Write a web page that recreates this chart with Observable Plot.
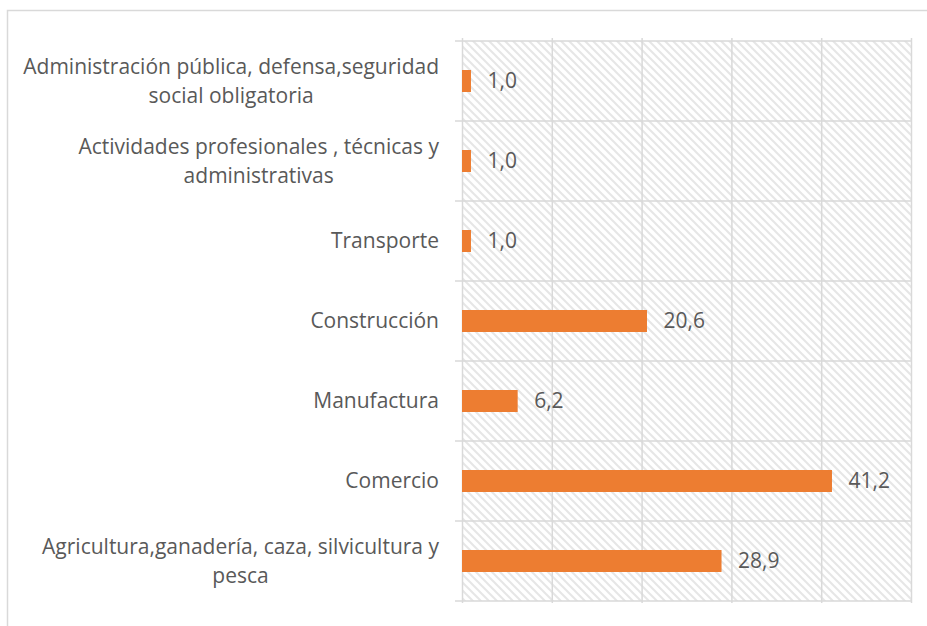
<!DOCTYPE html>
<html>
<head>
<meta charset="utf-8">
<script src="https://cdn.jsdelivr.net/npm/d3@7"></script>
<script src="https://cdn.jsdelivr.net/npm/@observablehq/plot@0.6"></script>
<style>
  html, body { margin: 0; padding: 0; background: #fff; }
  svg { display: block; }
</style>
</head>
<body>
<div id="chart"></div>
<script>
// ---- Data ----
const categories = [
  "Administración pública, defensa,seguridad social obligatoria",
  "Actividades profesionales , técnicas y administrativas",
  "Transporte",
  "Construcción",
  "Manufactura",
  "Comercio",
  "Agricultura,ganadería, caza, silvicultura y pesca"
];
const labelLines = [
  ["Administración pública, defensa,seguridad", "social obligatoria"],
  ["Actividades profesionales , técnicas y", "administrativas"],
  ["Transporte"],
  ["Construcción"],
  ["Manufactura"],
  ["Comercio"],
  ["Agricultura,ganadería, caza, silvicultura y", "pesca"]
];
const values = [1.0, 1.0, 1.0, 20.6, 6.2, 41.2, 28.9];
const xTicks = [0, 10, 20, 30, 40, 50];

const data = categories.map((c, i) => ({category: c, value: values[i]}));

const NS = "http://www.w3.org/2000/svg";
const FONT = "'Open Sans', sans-serif";
const FONT_SIZE = 21;
const GRID = "#d9d9d9";
const TEXT = "#595959";

function el(name, attrs) {
  const e = document.createElementNS(NS, name);
  for (const k in attrs) e.setAttribute(k, attrs[k]);
  return e;
}

function bandStep(y) {
  return y(categories[1]) - y(categories[0]);
}

// hatched plot background + outer chart border
function background(index, scales, vals, dims) {
  const g = el("g", {});
  const defs = el("defs", {});
  const pat = el("pattern", {id: "hatch", patternUnits: "userSpaceOnUse", width: 8, height: 8});
  pat.appendChild(el("rect", {x: 0, y: 0, width: 8, height: 8, fill: "#ffffff"}));
  pat.appendChild(el("path", {d: "M-2,-2L10,10M-2,6L2,10M6,-2L10,2", stroke: "#e6e6e6", "stroke-width": 2}));
  defs.appendChild(pat);
  g.appendChild(defs);
  const x0 = scales.x(xTicks[0]), x1 = scales.x(xTicks[xTicks.length - 1]);
  const step = bandStep(scales.y);
  const y0 = scales.y(categories[0]);
  const y1 = scales.y(categories[categories.length - 1]) + step;
  g.appendChild(el("rect", {x: x0, y: y0, width: x1 - x0, height: y1 - y0, fill: "url(#hatch)"}));
  // outer chart border
  g.appendChild(el("path", {d: `M7.5,${dims.height}V10.5H${dims.width}`, fill: "none", stroke: GRID, "stroke-width": 1.5}));
  return g;
}

// horizontal band boundary lines with outward stubs
function bandGrid(index, scales, vals, dims) {
  const g = el("g", {stroke: GRID, "stroke-width": 1.5});
  const step = bandStep(scales.y);
  const x0 = scales.x(xTicks[0]) - 7, x1 = scales.x(xTicks[xTicks.length - 1]);
  const ys = categories.map(c => scales.y(c));
  ys.push(ys[ys.length - 1] + step);
  for (const yy of ys) g.appendChild(el("line", {x1: x0, x2: x1, y1: yy, y2: yy}));
  return g;
}

// category labels: block right-aligned, lines centered within block
function yLabels(index, scales, vals, dims) {
  const g = el("g", {fill: TEXT, "font-family": FONT, "font-size": FONT_SIZE, "text-anchor": "middle"});
  const ctx = document.createElement("canvas").getContext("2d");
  ctx.font = `${FONT_SIZE}px ${FONT}`;
  const step = bandStep(scales.y);
  const right = scales.x(0) - 23;
  categories.forEach((c, i) => {
    const lines = labelLines[i];
    const cy = scales.y(c) + step / 2;
    const w = Math.max(...lines.map(l => ctx.measureText(l).width));
    const cx = right - w / 2;
    lines.forEach((l, j) => {
      const t = el("text", {x: cx, y: cy + (j - (lines.length - 1) / 2) * 29, dy: "0.35em"});
      t.textContent = l;
      g.appendChild(t);
    });
  });
  return g;
}

const fmt = v => v.toFixed(1).replace(".", ",");

const chart = Plot.plot({
  width: 927,
  height: 626,
  marginLeft: 462,
  marginRight: 16,
  marginTop: 38,
  marginBottom: 23,
  style: {fontFamily: FONT, background: "#fff"},
  x: {domain: [0, 50], axis: null},
  y: {domain: categories, padding: 0, axis: null},
  marks: [
    background,
    Plot.ruleX(xTicks, {stroke: GRID, strokeWidth: 1.5, strokeOpacity: 1}),
    bandGrid,
    Plot.barX(data, {x: "value", y: "category", fill: "#ED7D31", insetTop: 29, insetBottom: 29}),
    Plot.text(data, {x: "value", y: "category", text: d => fmt(d.value), textAnchor: "start", dx: 16,
      fill: TEXT, fontSize: FONT_SIZE, fontFamily: FONT}),
    yLabels
  ]
});
document.getElementById("chart").appendChild(chart);
</script>
</body>
</html>
